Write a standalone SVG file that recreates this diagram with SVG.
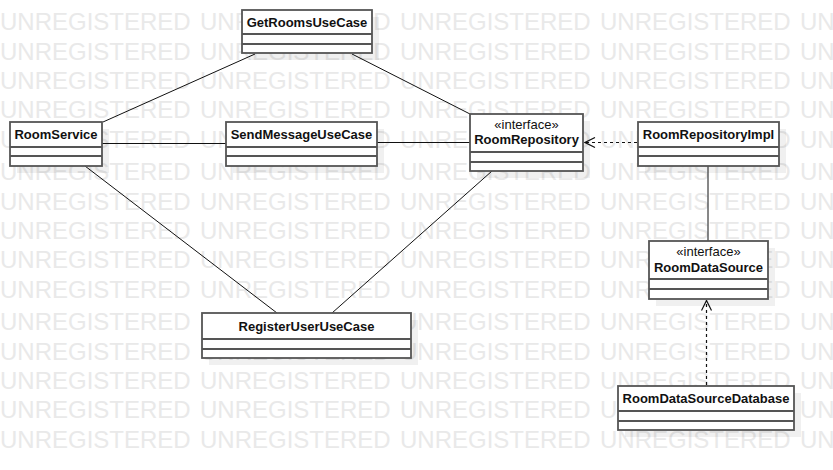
<svg xmlns="http://www.w3.org/2000/svg" width="833" height="470" viewBox="0 0 833 470">
  <style>
    .wm { font-family: "Liberation Sans", Arial, sans-serif; font-size: 24px; fill: #e9e9e9; word-spacing: 2.65px; }
    .shadow { fill: #000; fill-opacity: 0.06; }
    .box { fill: #fff; stroke: #555; stroke-width: 1.8; }
    .div { stroke: #555; stroke-width: 1.8; fill: none; }
    .name { font-family: "Liberation Sans", Arial, sans-serif; font-size: 13px; font-weight: bold; fill: #111; text-anchor: middle; }
    .stereo { font-family: "Liberation Sans", Arial, sans-serif; font-size: 13px; fill: #111; text-anchor: middle; }
    .assoc { stroke: #111; stroke-width: 1; fill: none; }
    .dep { stroke: #111; stroke-width: 1.2; fill: none; stroke-dasharray: 3 3; }
    .head { stroke: #111; stroke-width: 1.2; fill: none; }
  </style>
  <defs>
    <marker id="open-arrow" viewBox="0 0 12 12" refX="11" refY="6" markerWidth="12" markerHeight="12" markerUnits="userSpaceOnUse" orient="auto">
      <path d="M1,1 L11,6 L1,11" class="head"/>
    </marker>
  </defs>

  <rect width="833" height="470" fill="#fff"/>

  <!-- evaluation watermark rows -->
  <g id="watermark">
    <text class="wm" x="0" y="30.3">UNREGISTERED UNREGISTERED UNREGISTERED UNREGISTERED UN</text>
    <text class="wm" x="0" y="59.6">UNREGISTERED UNREGISTERED UNREGISTERED UNREGISTERED UN</text>
    <text class="wm" x="0" y="88.9">UNREGISTERED UNREGISTERED UNREGISTERED UNREGISTERED UN</text>
    <text class="wm" x="0" y="118.2">UNREGISTERED UNREGISTERED UNREGISTERED UNREGISTERED UN</text>
    <text class="wm" x="0" y="147.5">UNREGISTERED UNREGISTERED UNREGISTERED UNREGISTERED UN</text>
    <text class="wm" x="0" y="180.3">UNREGISTERED UNREGISTERED UNREGISTERED UNREGISTERED UN</text>
    <text class="wm" x="0" y="209.6">UNREGISTERED UNREGISTERED UNREGISTERED UNREGISTERED UN</text>
    <text class="wm" x="0" y="238.9">UNREGISTERED UNREGISTERED UNREGISTERED UNREGISTERED UN</text>
    <text class="wm" x="0" y="268.2">UNREGISTERED UNREGISTERED UNREGISTERED UNREGISTERED UN</text>
    <text class="wm" x="0" y="297.5">UNREGISTERED UNREGISTERED UNREGISTERED UNREGISTERED UN</text>
    <text class="wm" x="0" y="330.3">UNREGISTERED UNREGISTERED UNREGISTERED UNREGISTERED UN</text>
    <text class="wm" x="0" y="359.6">UNREGISTERED UNREGISTERED UNREGISTERED UNREGISTERED UN</text>
    <text class="wm" x="0" y="388.9">UNREGISTERED UNREGISTERED UNREGISTERED UNREGISTERED UN</text>
    <text class="wm" x="0" y="418.2">UNREGISTERED UNREGISTERED UNREGISTERED UNREGISTERED UN</text>
    <text class="wm" x="0" y="447.5">UNREGISTERED UNREGISTERED UNREGISTERED UNREGISTERED UN</text>
  </g>

  <!-- associations and dependencies -->
  <g id="connectors">
    <line class="assoc" x1="255" y1="54" x2="103" y2="122"/>
    <line class="assoc" x1="352" y1="54" x2="470" y2="114"/>
    <line class="assoc" x1="102" y1="143.5" x2="226" y2="143.5"/>
    <line class="assoc" x1="377" y1="142.5" x2="470" y2="142.5"/>
    <line class="assoc" x1="85" y1="166" x2="277" y2="313"/>
    <line class="assoc" x1="492" y1="171" x2="332" y2="313"/>
    <line class="assoc" x1="708" y1="166" x2="708" y2="241"/>
    <line class="dep" x1="637" y1="142.5" x2="585" y2="142.5" marker-end="url(#open-arrow)"/>
    <line class="dep" x1="706.5" y1="385" x2="706.5" y2="300.5" marker-end="url(#open-arrow)"/>
  </g>

  <g id="GetRoomsUseCase">
    <rect class="shadow" x="249" y="17" width="130" height="43"/>
    <rect class="box" x="242" y="10" width="130" height="43"/>
    <path class="div" d="M242,34 H372 M242,44 H372"/>
    <text class="name" x="307" y="27">GetRoomsUseCase</text>
  </g>

  <g id="RoomService">
    <rect class="shadow" x="17" y="129" width="92" height="44"/>
    <rect class="box" x="10" y="122" width="92" height="44"/>
    <path class="div" d="M10,147 H102 M10,156 H102"/>
    <text class="name" x="56" y="139">RoomService</text>
  </g>

  <g id="SendMessageUseCase">
    <rect class="shadow" x="233" y="129" width="151" height="44"/>
    <rect class="box" x="226" y="122" width="151" height="44"/>
    <path class="div" d="M226,147 H377 M226,156 H377"/>
    <text class="name" x="301.5" y="139">SendMessageUseCase</text>
  </g>

  <g id="RoomRepository">
    <rect class="shadow" x="477" y="121" width="113" height="57"/>
    <rect class="box" x="470" y="114" width="113" height="57"/>
    <path class="div" d="M470,152 H583 M470,162 H583"/>
    <text class="stereo" x="526.5" y="129">«interface»</text>
    <text class="name" x="526.5" y="143.5">RoomRepository</text>
  </g>

  <g id="RoomRepositoryImpl">
    <rect class="shadow" x="645" y="129" width="141" height="44"/>
    <rect class="box" x="638" y="122" width="141" height="44"/>
    <path class="div" d="M638,147 H779 M638,156 H779"/>
    <text class="name" x="708.5" y="139">RoomRepositoryImpl</text>
  </g>

  <g id="RegisterUserUseCase">
    <rect class="shadow" x="209" y="320" width="209" height="45"/>
    <rect class="box" x="202" y="313" width="209" height="45"/>
    <path class="div" d="M202,339 H411 M202,349 H411"/>
    <text class="name" x="306.5" y="331">RegisterUserUseCase</text>
  </g>

  <g id="RoomDataSource">
    <rect class="shadow" x="656" y="248" width="119" height="58"/>
    <rect class="box" x="649" y="241" width="119" height="58"/>
    <path class="div" d="M649,279 H768 M649,289 H768"/>
    <text class="stereo" x="708.5" y="256">«interface»</text>
    <text class="name" x="708.5" y="272">RoomDataSource</text>
  </g>

  <g id="RoomDataSourceDatabase">
    <rect class="shadow" x="625" y="393" width="176" height="44"/>
    <rect class="box" x="618" y="386" width="176" height="44"/>
    <path class="div" d="M618,411 H794 M618,421 H794"/>
    <text class="name" x="706" y="403">RoomDataSourceDatabase</text>
  </g>
</svg>
